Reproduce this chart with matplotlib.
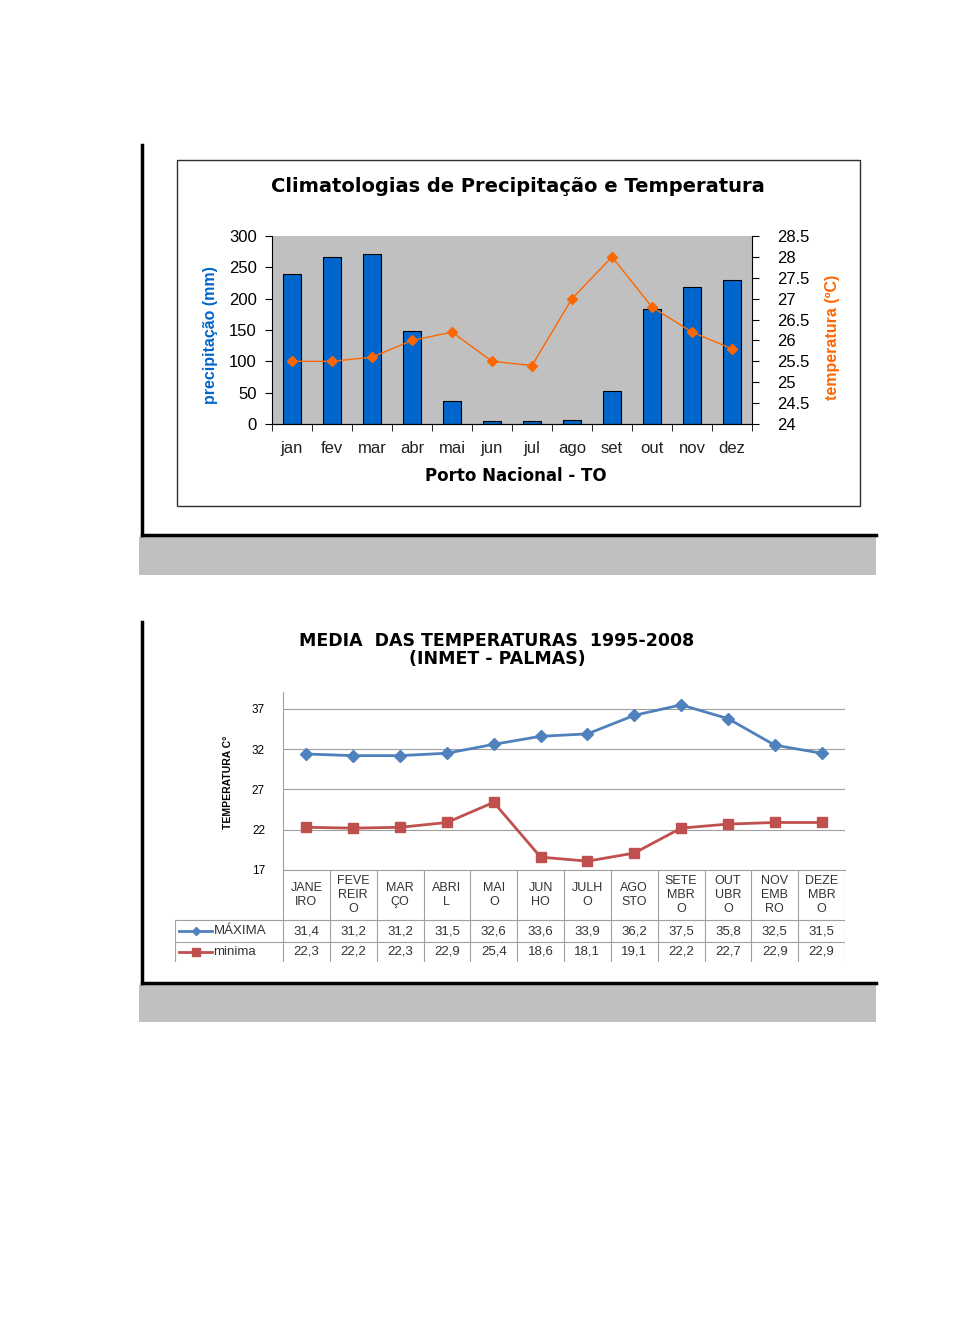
import numpy as np
import matplotlib.pyplot as plt
from matplotlib.patches import Rectangle

W, H = 974, 1320
plt.rcParams['font.family'] = ['Liberation Sans', 'DejaVu Sans']

# top chart data
meses = ["jan", "fev", "mar", "abr", "mai", "jun", "jul", "ago", "set", "out", "nov", "dez"]
precipitacao = [240, 266, 271, 148, 37, 5, 5, 7, 52, 183, 219, 229]
temperatura = [25.5, 25.5, 25.6, 26.0, 26.2, 25.5, 25.4, 27.0, 28.0, 26.8, 26.2, 25.8]

# bottom chart data
meses_tab = ["JANE\nIRO", "FEVE\nREIR\nO", "MAR\nÇO", "ABRI\nL", "MAI\nO", "JUN\nHO",
             "JULH\nO", "AGO\nSTO", "SETE\nMBR\nO", "OUT\nUBR\nO", "NOV\nEMB\nRO", "DEZE\nMBR\nO"]
maxima = [31.4, 31.2, 31.2, 31.5, 32.6, 33.6, 33.9, 36.2, 37.5, 35.8, 32.5, 31.5]
minima = [22.3, 22.2, 22.3, 22.9, 25.4, 18.6, 18.1, 19.1, 22.2, 22.7, 22.9, 22.9]


def rect(x0, y0, x1, y1):
    return [x0 / W, 1 - y1 / H, (x1 - x0) / W, (y1 - y0) / H]


fig = plt.figure(figsize=(W / 100, H / 100), dpi=100)

# page decoration in pixel coords
bg = fig.add_axes([0, 0, 1, 1])
bg.set_xlim(0, W)
bg.set_ylim(H, 0)
bg.axis("off")
bg.plot([142, 142], [145, 535], color="black", lw=2.5)
bg.plot([142, 876], [535, 535], color="black", lw=2.5)
bg.add_patch(Rectangle((139, 537), 737, 38, color="#C0C0C0", lw=0))
bg.plot([142, 142], [622, 983], color="black", lw=2.5)
bg.plot([142, 876], [983, 983], color="black", lw=2.5)
bg.add_patch(Rectangle((139, 985), 737, 37, color="#C0C0C0", lw=0))
bg.add_patch(Rectangle((177, 160), 683, 346, fill=False, ec="#303030", lw=1))

bold = ["DejaVu Sans"]
bg.text(518, 186, "Climatologias de Precipitação e Temperatura", ha="center", va="center",
        fontsize=14, fontweight="bold", family=bold)
bg.text(516, 476, "Porto Nacional - TO", ha="center", va="center", fontsize=12,
        fontweight="bold", family=bold)
bg.text(210, 335, "precipitação (mm)", ha="center", va="center", rotation=90,
        fontsize=11.5, fontweight="bold", color="#0066CC")
bg.text(832, 337, "temperatura (ºC)", ha="center", va="center", rotation=90,
        fontsize=11.5, fontweight="bold", color="#FF6600")

# top chart
x = np.arange(len(meses))
ax = fig.add_axes(rect(272, 236, 752, 424))
ax.set_facecolor("#C0C0C0")
ax.bar(x, precipitacao, width=0.45, color="#0066CC", edgecolor="black", lw=0.8, zorder=2)
ax.set_xlim(-0.5, 11.5)
ax.set_ylim(0, 300)
ax.set_yticks(range(0, 301, 50))
ax.set_xticks(x)
ax.set_xticklabels(meses)
ax.set_xticks(np.arange(-0.5, 12, 1), minor=True)
ax.tick_params(axis="x", which="major", length=0, pad=12, labelsize=12, colors="#222222")
ax.tick_params(axis="x", which="minor", length=5, direction="out")
ax.tick_params(axis="y", length=5, direction="out", pad=6, labelsize=12)
ax.spines["top"].set_visible(False)
ax.spines["right"].set_visible(False)

ax2 = ax.twinx()
ax2.plot(x, temperatura, color="#FF6600", lw=1, marker="D", markersize=5, zorder=3)
ax2.set_ylim(24, 28.5)
ax2.set_yticks(np.arange(24, 28.51, 0.5))
ax2.set_yticklabels([f"{v:g}" for v in np.arange(24, 28.51, 0.5)])
ax2.tick_params(axis="y", length=5, direction="out", pad=13, labelsize=12)
ax2.spines["top"].set_visible(False)
ax2.spines["left"].set_visible(False)

# bottom chart
bg.text(497, 641, "MEDIA  DAS TEMPERATURAS  1995-2008", ha="center", va="center",
        fontsize=12.5, fontweight="bold", family=bold)
bg.text(497, 659, "(INMET - PALMAS)", ha="center", va="center", fontsize=12.5,
        fontweight="bold", family=bold)
bg.text(228, 782, "TEMPERATURA C°", ha="center", va="center", rotation=90,
        fontsize=7.5, fontweight="bold")

bx = fig.add_axes(rect(283, 692, 845, 870))
bx.plot(x, maxima, color="#4F81BD", lw=2, marker="D", markersize=6.5, zorder=3)
bx.plot(x, minima, color="#C0504D", lw=2, marker="s", markersize=7.5, zorder=3)
bx.set_xlim(-0.5, 11.5)
bx.set_ylim(17, 39.1)
bx.set_yticks([17, 22, 27, 32, 37])
bx.grid(axis="y", color="#A0A0A0", lw=0.8)
bx.set_xticks([])
bx.tick_params(axis="y", length=0, pad=13, labelsize=8.5)
for s in ["top", "right"]:
    bx.spines[s].set_visible(False)
bx.spines["left"].set_color("#A0A0A0")
bx.spines["bottom"].set_color("#A0A0A0")

# data table under the plot
col_w = (845 - 283) / 12
left = -0.5 - (283 - 175) / col_w
tb = fig.add_axes(rect(175, 870, 845, 962))
tb.set_xlim(left, 11.5)
tb.set_ylim(962, 870)
tb.axis("off")
gc = "#A0A0A0"
for b in np.arange(-0.5, 12, 1):
    tb.plot([b, b], [870, 962], color=gc, lw=0.8)
tb.plot([left, left], [920, 962], color=gc, lw=0.8)
tb.plot([left, 11.5], [920, 920], color=gc, lw=0.8)
tb.plot([left, 11.5], [942, 942], color=gc, lw=0.8)
for i in range(12):
    tb.text(x[i], 895, meses_tab[i], ha="center", va="center", fontsize=9,
            color="#333333", linespacing=1.2)
    tb.text(x[i], 931, f"{maxima[i]:.1f}".replace(".", ","), ha="center", va="center",
            fontsize=9.5, color="#333333")
    tb.text(x[i], 952, f"{minima[i]:.1f}".replace(".", ","), ha="center", va="center",
            fontsize=9.5, color="#333333")
lx = [left + 0.08, left + 0.8]
tb.plot(lx, [931, 931], color="#4F81BD", lw=2)
tb.plot([np.mean(lx)], [931], color="#4F81BD", marker="D", markersize=4)
tb.plot(lx, [952, 952], color="#C0504D", lw=2)
tb.plot([np.mean(lx)], [952], color="#C0504D", marker="s", markersize=6)
tb.text(left + 0.82, 931, "MÁXIMA", ha="left", va="center", fontsize=9.5, color="#333333")
tb.text(left + 0.82, 952, "minima", ha="left", va="center", fontsize=9.5, color="#333333")

fig.savefig("out.png", dpi=100)
